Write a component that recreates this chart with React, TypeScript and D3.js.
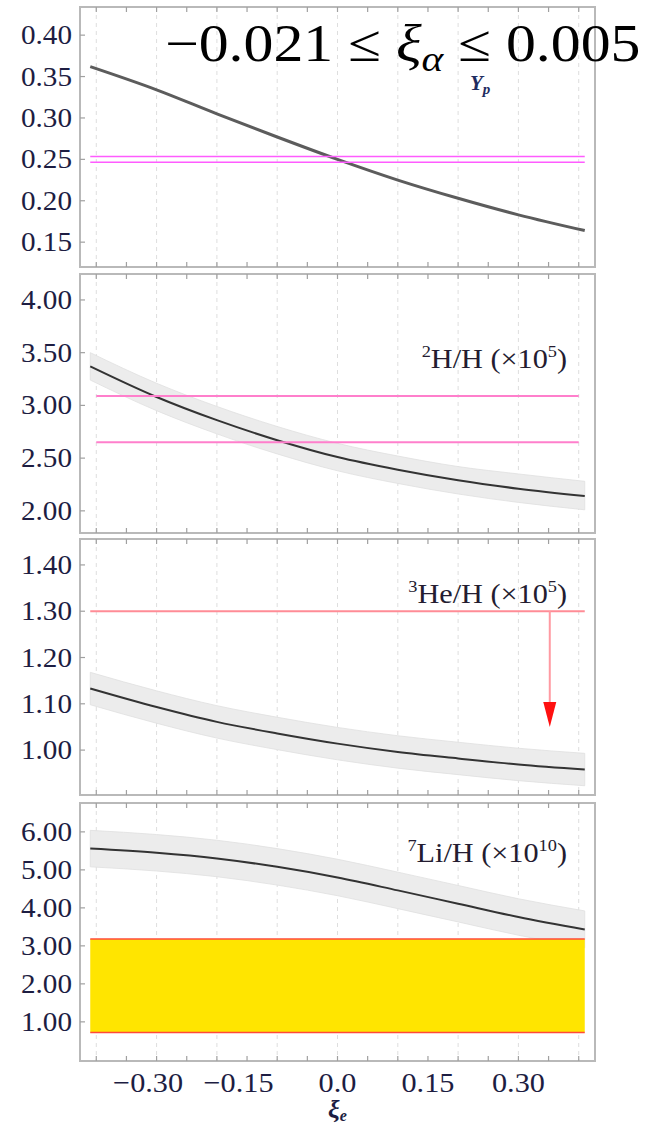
import React from "react";
import * as d3 from "d3";

// ---- data -------------------------------------------------------------
// sample points along xi_e where each abundance curve is tabulated
const XI = [-0.41, -0.3, -0.2, -0.1, 0, 0.1, 0.2, 0.3, 0.41];

// helium-4 mass fraction Y_p
const YP_MID = [0.362, 0.334, 0.305, 0.277, 0.25, 0.225, 0.203, 0.183, 0.164];
const YP_OBS = [0.2465, 0.2535];

// deuterium 2H/H (x10^5)
const DH_MID = [3.37, 3.08, 2.86, 2.67, 2.51, 2.39, 2.29, 2.21, 2.14];
const DH_UP = [3.5, 3.21, 2.99, 2.8, 2.64, 2.52, 2.42, 2.35, 2.28];
const DH_LO = [3.24, 2.95, 2.73, 2.54, 2.38, 2.26, 2.16, 2.08, 2.01];
const DH_OBS = [2.65, 3.09];

// helium-3 3He/H (x10^5)
const HE_MID = [1.133, 1.093, 1.061, 1.036, 1.014, 0.996, 0.982, 0.969, 0.958];
const HE_UP = [1.168, 1.128, 1.096, 1.071, 1.049, 1.031, 1.017, 1.004, 0.993];
const HE_LO = [1.098, 1.058, 1.026, 1.001, 0.979, 0.961, 0.947, 0.934, 0.923];
const HE_LIMIT = 1.3;
const HE_ARROW = { x: 0.352, to: 1.05 };

// lithium-7 7Li/H (x10^10)
const LI_MID = [5.56, 5.45, 5.3, 5.08, 4.8, 4.46, 4.11, 3.76, 3.43];
const LI_UP = [6.04, 5.93, 5.78, 5.56, 5.28, 4.94, 4.59, 4.24, 3.92];
const LI_LO = [5.08, 4.97, 4.82, 4.6, 4.32, 3.98, 3.63, 3.28, 2.95];
const LI_OBS = [0.72, 3.18];

// axes
const X_DOMAIN = [-0.427, 0.427];
const X_GRID = [-0.4, -0.3, -0.2, -0.1, 0, 0.1, 0.2, 0.3, 0.4];
const X_FRAME_TICKS = [
  -0.4, -0.35, -0.3, -0.25, -0.2, -0.15, -0.1, -0.05, 0, 0.05, 0.1, 0.15, 0.2,
  0.25, 0.3, 0.35, 0.4,
];
const X_LABEL_VALUES = [-0.3, -0.15, 0, 0.15, 0.3];
const X_LABEL_TEXT = ["0.30", "0.15", "0.0", "0.15", "0.30"];

const YP_TICKS = [0.15, 0.2, 0.25, 0.3, 0.35, 0.4];
const DH_TICKS = [2.0, 2.5, 3.0, 3.5, 4.0];
const HE_TICKS = [1.0, 1.1, 1.2, 1.3, 1.4];
const LI_TICKS = [1, 2, 3, 4, 5, 6];

// ---- layout -----------------------------------------------------------
const W = 660;
const H = 1128;
const LEFT = 80;
const RIGHT = 595;
const SERIF = "'Liberation Serif', 'Times New Roman', serif";
const TICK_COLOR = "#1d1d42";
const LABEL_COLOR = "#241c30";
const SX = 1.08; // horizontal glyph stretch
const TICK_FONT = 27;

const x = d3.scaleLinear().domain(X_DOMAIN).range([LEFT, RIGHT]);

type Panel = {
  top: number;
  bottom: number;
  domain: [number, number];
  ticks: number[];
  mid: number[];
  up?: number[];
  lo?: number[];
  curveColor: string;
  curveWidth: number;
};

const panels: Panel[] = [
  { top: 7, bottom: 267, domain: [0.12, 0.434], ticks: YP_TICKS, mid: YP_MID, curveColor: "#5c5c5c", curveWidth: 3 },
  { top: 274, bottom: 533, domain: [1.79, 4.246], ticks: DH_TICKS, mid: DH_MID, up: DH_UP, lo: DH_LO, curveColor: "#333", curveWidth: 2 },
  { top: 539, bottom: 795, domain: [0.903, 1.456], ticks: HE_TICKS, mid: HE_MID, up: HE_UP, lo: HE_LO, curveColor: "#333", curveWidth: 2 },
  { top: 803, bottom: 1061, domain: [-0.03, 6.76], ticks: LI_TICKS, mid: LI_MID, up: LI_UP, lo: LI_LO, curveColor: "#333", curveWidth: 2 },
];

const yScale = (p: Panel) => d3.scaleLinear().domain(p.domain).range([p.bottom, p.top]);

function Frame({ p }: { p: Panel }) {
  const y = yScale(p);
  const fmt = d3.format(".2f");
  const line = d3
    .line<number>()
    .x((_, i) => x(XI[i]))
    .y((v) => y(v))
    .curve(d3.curveMonotoneX);
  const area = d3
    .area<number>()
    .x((_, i) => x(XI[i]))
    .y0((_, i) => y(p.lo ? p.lo[i] : 0))
    .y1((v) => y(v))
    .curve(d3.curveMonotoneX);
  return (
    <g>
      {X_GRID.map((g) => (
        <line key={"g" + g} x1={x(g)} x2={x(g)} y1={p.top} y2={p.bottom} stroke="#dedede" strokeWidth={1} strokeDasharray="4,4" />
      ))}
      {p.up && p.lo && <path d={area(p.up) || ""} fill="#ececec" stroke="#e0e0e0" strokeWidth={0.8} />}
      <path d={line(p.mid) || ""} fill="none" stroke={p.curveColor} strokeWidth={p.curveWidth} />
      <rect x={LEFT} y={p.top} width={RIGHT - LEFT} height={p.bottom - p.top} fill="none" stroke="#b9b9b9" strokeWidth={2} />
      {X_FRAME_TICKS.map((t) => (
        <g key={"t" + t}>
          <line x1={x(t)} x2={x(t)} y1={p.top} y2={p.top + 5} stroke="#a0a0a0" strokeWidth={1.2} />
          <line x1={x(t)} x2={x(t)} y1={p.bottom} y2={p.bottom - 5} stroke="#a0a0a0" strokeWidth={1.2} />
        </g>
      ))}
      {p.ticks.map((t) => (
        <g key={"y" + t}>
          <line x1={LEFT} x2={LEFT + 5} y1={y(t)} y2={y(t)} stroke="#a0a0a0" strokeWidth={1.2} />
          <text
            transform={`translate(72,${y(t) + 9}) scale(${SX},1)`}
            textAnchor="end"
            fontFamily={SERIF}
            fontSize={TICK_FONT}
            fill={TICK_COLOR}
          >
            {fmt(t)}
          </text>
        </g>
      ))}
    </g>
  );
}

export default function App() {
  const [p1, p2, p3, p4] = panels;
  const y1 = yScale(p1);
  const y2 = yScale(p2);
  const y3 = yScale(p3);
  const y4 = yScale(p4);
  const labelSize = 28;
  const supSize = 17;
  return (
    <svg width={W} height={H} style={{ position: "absolute", left: 0, top: 0, background: "#fff" }}>
      <rect width={W} height={H} fill="#fff" />

      {/* Y_p panel */}
      <Frame p={p1} />
      {YP_OBS.map((v) => (
        <line key={"yp" + v} x1={x(-0.41)} x2={x(0.41)} y1={y1(v)} y2={y1(v)} stroke="#ff5cff" strokeWidth={1.6} />
      ))}

      {/* deuterium panel */}
      <Frame p={p2} />
      {DH_OBS.map((v) => (
        <line key={"dh" + v} x1={x(-0.4)} x2={x(0.4)} y1={y2(v)} y2={y2(v)} stroke="#ff7fcc" strokeWidth={2} />
      ))}

      {/* helium-3 panel */}
      <Frame p={p3} />
      <line x1={x(-0.41)} x2={x(0.41)} y1={y3(HE_LIMIT)} y2={y3(HE_LIMIT)} stroke="#ff8c96" strokeWidth={2} />
      <line
        x1={x(HE_ARROW.x)}
        x2={x(HE_ARROW.x)}
        y1={y3(HE_LIMIT)}
        y2={y3(HE_ARROW.to) - 22}
        stroke="#ff9aa2"
        strokeWidth={2}
      />
      <path
        d={`M${x(HE_ARROW.x) - 6.5},${y3(HE_ARROW.to) - 25} L${x(HE_ARROW.x) + 6.5},${y3(HE_ARROW.to) - 25} L${x(HE_ARROW.x)},${y3(HE_ARROW.to)} Z`}
        fill="#ff1010"
      />

      {/* lithium-7 panel */}
      <Frame p={p4} />
      <rect
        x={x(-0.41)}
        y={y4(LI_OBS[1])}
        width={x(0.41) - x(-0.41)}
        height={y4(LI_OBS[0]) - y4(LI_OBS[1])}
        fill="#ffe500"
      />
      {LI_OBS.map((v) => (
        <line key={"li" + v} x1={x(-0.41)} x2={x(0.41)} y1={y4(v)} y2={y4(v)} stroke="#ff4a3a" strokeWidth={1.6} />
      ))}

      {/* panel labels */}
      <text transform={`translate(567,368) scale(${SX},1)`} textAnchor="end" fontFamily={SERIF} fontSize={labelSize} fill={LABEL_COLOR}>
        <tspan fontSize={supSize} dy={-11}>2</tspan>
        <tspan dy={11}>H/H (×10</tspan>
        <tspan fontSize={supSize} dy={-11}>5</tspan>
        <tspan dy={11}>)</tspan>
      </text>
      <text transform={`translate(567,603) scale(${SX},1)`} textAnchor="end" fontFamily={SERIF} fontSize={labelSize} fill={LABEL_COLOR}>
        <tspan fontSize={supSize} dy={-11}>3</tspan>
        <tspan dy={11}>He/H (×10</tspan>
        <tspan fontSize={supSize} dy={-11}>5</tspan>
        <tspan dy={11}>)</tspan>
      </text>
      <text transform={`translate(567,862) scale(${SX},1)`} textAnchor="end" fontFamily={SERIF} fontSize={labelSize} fill={LABEL_COLOR}>
        <tspan fontSize={supSize} dy={-11}>7</tspan>
        <tspan dy={11}>Li/H (×10</tspan>
        <tspan fontSize={supSize} dy={-11}>10</tspan>
        <tspan dy={11}>)</tspan>
      </text>

      {/* Y_p label */}
      <text x={470} y={90} fontFamily={SERIF} fontSize={21} fontStyle="italic" fontWeight="bold" fill="#1e2c60">
        Y<tspan fontSize={15} dy={4}>p</tspan>
      </text>

      {/* constraint heading */}
      <text transform={`translate(165,61) scale(1.15,1)`} fontFamily={SERIF} fontSize={52} fill="#000">
        −0.021 ≤ <tspan fontStyle="italic">ξ</tspan>
        <tspan fontStyle="italic" fontSize={36} dy={10}>α</tspan>
        <tspan dy={-10}> ≤ 0.005</tspan>
      </text>

      {/* x axis labels */}
      {X_LABEL_VALUES.map((v, i) => (
        <g key={"xl" + v} transform={`translate(${x(v)},1092) scale(${SX},1)`}>
          <text textAnchor="middle" fontFamily={SERIF} fontSize={28} fill={TICK_COLOR}>
            {X_LABEL_TEXT[i]}
          </text>
          {v < 0 && (
            <text x={-(X_LABEL_TEXT[i].length * 0.5 - 0.25) * 28 / 2} textAnchor="end" fontFamily={SERIF} fontSize={28} fill={TICK_COLOR}>
              −
            </text>
          )}
        </g>
      ))}
      <text x={x(0)} y={1118} textAnchor="middle" fontFamily={SERIF} fontSize={26} fontStyle="italic" fontWeight="bold" fill={TICK_COLOR}>
        ξ<tspan fontSize={16} dy={3}>e</tspan>
      </text>
    </svg>
  );
}
